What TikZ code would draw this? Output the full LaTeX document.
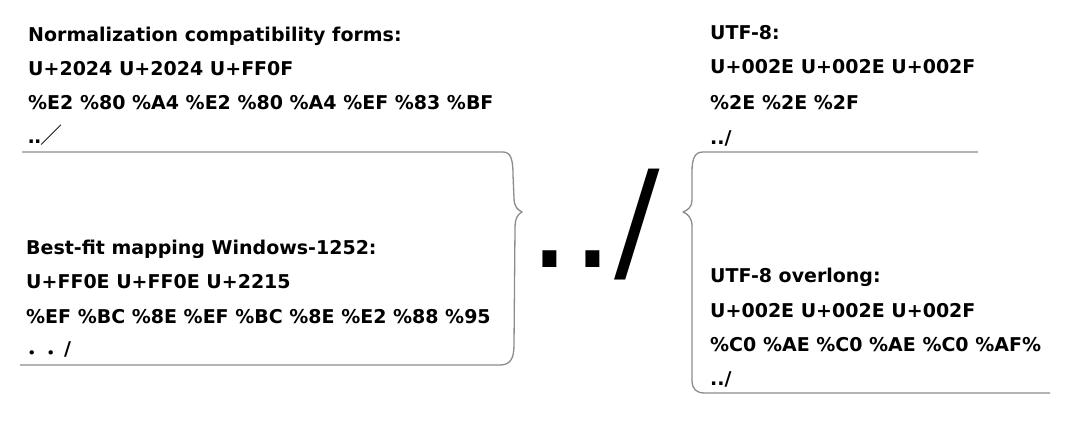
\documentclass[tikz,border=0pt]{standalone}
\usepackage{fontspec}
\setmainfont{DejaVu Sans}
\newfontfamily\cjkfont{Noto Sans CJK SC}
\newfontfamily\bigfont{DejaVu Sans}
\begin{document}
\begin{tikzpicture}[x=1pt,y=-1pt,
  lbl/.style={anchor=base west,inner sep=0pt,font=\fontsize{19}{22}\selectfont\bfseries},
  brace/.style={draw=black!45,line width=1.3pt,line join=round}]
\useasboundingbox (0,0) rectangle (1079,428);
% left top block
\node[lbl] (n1) at (28,42) {Normalization compatibility forms:};
\node[lbl] (n2) at (28,75) {U+2024 U+2024 U+FF0F};
\node[lbl] (n3) at (28,110) {\%E2 \%80 \%A4 \%E2 \%80 \%A4 \%EF \%83 \%BF};
\node[lbl] (n4) at (28,143) {․․{\cjkfont\mdseries\fontsize{22}{22}\selectfont ／}};
% left bottom block
\node[lbl] (b1) at (26,254) {Best-fit mapping Windows-1252:};
\node[lbl] (b2) at (26,288) {U+FF0E U+FF0E U+2215};
\node[lbl] (b3) at (26,323) {\%EF \%BC \%8E \%EF \%BC \%8E \%E2 \%88 \%95};
\node[lbl] (b4) at (26,355) {{\cjkfont ．．}∕};
% right top block
\node[lbl] (u1) at (710,40) {UTF-8:};
\node[lbl] (u2) at (710,74) {U+002E U+002E U+002F};
\node[lbl] (u3) at (710,109) {\%2E \%2E \%2F};
\node[lbl] (u4) at (710,144) {../};
% right bottom block
\node[lbl] (o1) at (710,282) {UTF-8 overlong:};
\node[lbl] (o2) at (710,317) {U+002E U+002E U+002F};
\node[lbl] (o3) at (710,351) {\%C0 \%AE \%C0 \%AE \%C0 \%AF\%};
\node[lbl] (o4) at (710,385) {../};
% big centre text
\node[anchor=base west,inner sep=0pt,font=\fontsize{135}{140}\bigfont] (big) at (528,267) {../};
% left brace
\draw[brace] (22,152) -- (503,152) .. controls (511,152) and (513,160) .. (513,175) -- (514,198)
  .. controls (514,207) and (518,210) .. (522,212)
  .. controls (518,214) and (515,218) .. (515,228) -- (514,345)
  .. controls (514,359) and (510,365) .. (500,365) -- (20,365);
% right brace
\draw[brace] (978,152) -- (703,152) .. controls (695,152) and (692,158) .. (692,172) -- (692,200)
  .. controls (692,207) and (688,210) .. (683,212)
  .. controls (688,214) and (692,218) .. (692,226) -- (692,380)
  .. controls (692,389) and (696,393) .. (705,393) -- (1050,393);
\end{tikzpicture}
\end{document}
